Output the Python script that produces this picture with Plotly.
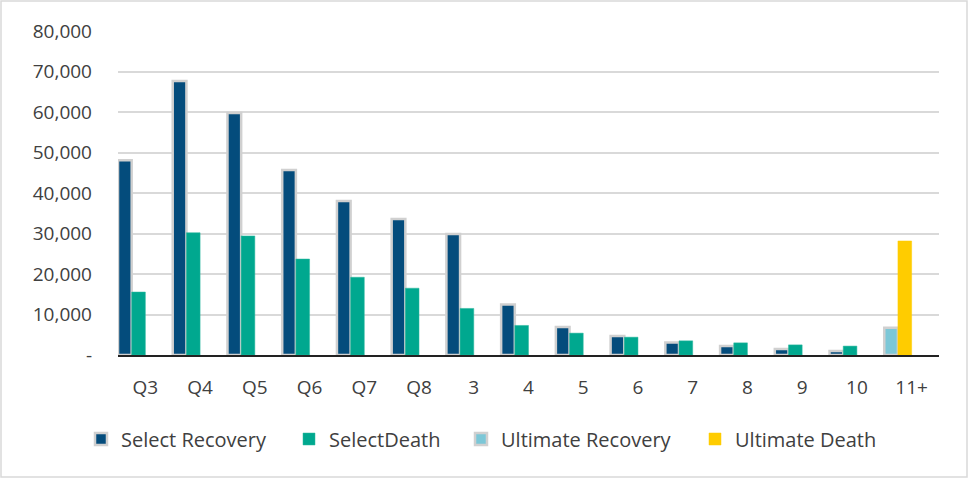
import plotly.graph_objects as go

categories = ["Q3", "Q4", "Q5", "Q6", "Q7", "Q8", "3", "4", "5", "6", "7", "8", "9", "10", "11+"]
select_recovery = [48100, 67650, 59750, 45700, 38000, 33600, 29900, 12500, 6900, 4700, 3100, 2200, 1500, 1000, None]
select_death = [15550, 30200, 29400, 23700, 19200, 16500, 11500, 7300, 5400, 4400, 3500, 3000, 2500, 2200, None]
ultimate_recovery = [None] * 14 + [6750]
ultimate_death = [None] * 14 + [28150]

y_tickvals = [0, 10000, 20000, 30000, 40000, 50000, 60000, 70000, 80000]
y_ticktext = ["-", "10,000", "20,000", "30,000", "40,000", "50,000", "60,000", "70,000", "80,000"]

FONT = "Open Sans"
W = 0.25

fig = go.Figure()
fig.add_trace(go.Bar(name="Select Recovery", x=categories, y=select_recovery,
                     marker=dict(color="#044C7C", line=dict(color="#D0D0D0", width=2.5)),
                     width=W, offset=-2 * W, legend="legend"))
fig.add_trace(go.Bar(name="SelectDeath", x=categories, y=select_death,
                     marker=dict(color="#00A88F", line=dict(color="#2DB89E", width=0.5)),
                     width=W, offset=-W, legend="legend2"))
fig.add_trace(go.Bar(name="Ultimate Recovery", x=categories, y=ultimate_recovery,
                     marker=dict(color="#7CC7D7", line=dict(color="#D0D0D0", width=2.5)),
                     width=W, offset=-2 * W, legend="legend3"))
fig.add_trace(go.Bar(name="Ultimate Death", x=categories, y=ultimate_death,
                     marker=dict(color="#FFCC00", line=dict(color="#FFCC00", width=0.5)),
                     width=W, offset=-W, legend="legend4"))

L, R, T, B = 118, 29, 31, 123
PW = 968 - L - R
PH = 478 - T - B


def leg(sym_center_px):
    return dict(orientation="h", xref="container", yref="container",
                x=(sym_center_px - 28) / 968, xanchor="left",
                y=(478 - 439) / 478, yanchor="middle",
                font=dict(family=FONT, size=20, color="#404040"),
                bgcolor="rgba(0,0,0,0)", itemwidth=30)


fig.update_layout(
    width=968, height=478,
    margin=dict(l=L, r=R, t=T, b=B, pad=0, autoexpand=False),
    paper_bgcolor="white", plot_bgcolor="white",
    font=dict(family=FONT, size=19, color="#404040"),
    barmode="overlay",
    showlegend=True,
    legend=leg(109),
    legend2=leg(317),
    legend3=leg(489),
    legend4=leg(723),
    xaxis=dict(type="category", categoryorder="array", categoryarray=categories,
               showgrid=False, showline=True, linecolor="#222222", linewidth=2,
               ticks="", ticklabelstandoff=14,
               tickfont=dict(family=FONT, size=19, color="#404040")),
    yaxis=dict(range=[0, 80000], tickvals=y_tickvals, ticktext=y_ticktext,
               showgrid=True, gridcolor="#D9D9D9", gridwidth=2,
               zeroline=False, showline=False, ticks="", ticklabelstandoff=25,
               tickfont=dict(family=FONT, size=19, color="#404040")),
    shapes=[dict(type="rect", xref="paper", yref="paper",
                 x0=(1 - L) / PW, x1=(967 - L) / PW,
                 y0=(T + PH - 477) / PH, y1=(T + PH - 1) / PH,
                 line=dict(color="#D9D9D9", width=1.5), fillcolor="rgba(0,0,0,0)",
                 layer="below")],
)

fig.write_html("out.html", config={"displayModeBar": False},
               post_script="document.body.style.margin='0';")
